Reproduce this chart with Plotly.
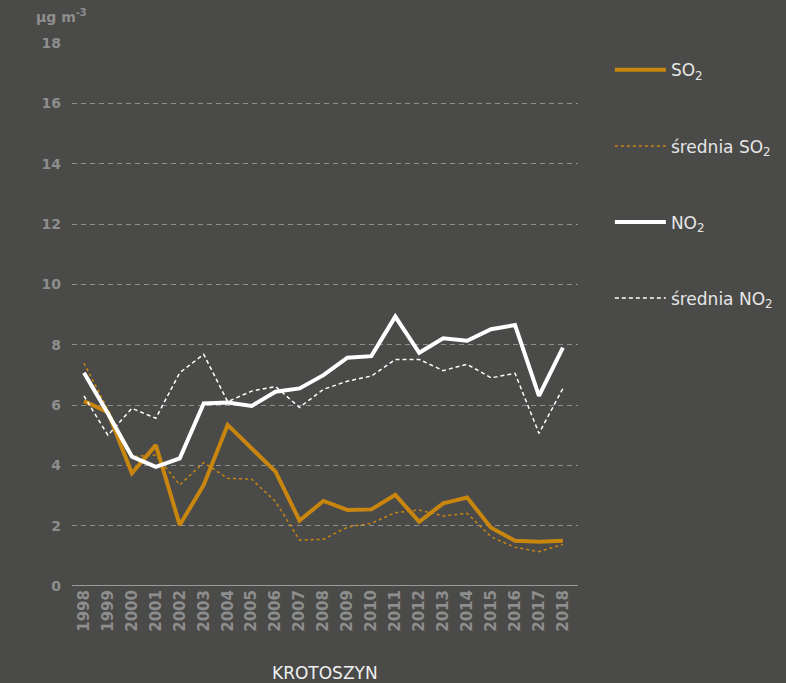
import plotly.graph_objects as go

# Annual mean concentrations, Krotoszyn
years = list(range(1998, 2019))
so2 = [6.13, 5.76, 3.74, 4.67, 2.02, 3.35, 5.34, 4.57, 3.79, 2.17, 2.82,
       2.52, 2.54, 3.02, 2.13, 2.74, 2.93, 1.93, 1.50, 1.47, 1.50]
so2_mean = [7.39, 5.85, 4.29, 4.34, 3.35, 4.09, 3.57, 3.54, 2.80, 1.52, 1.55,
            1.95, 2.08, 2.43, 2.52, 2.32, 2.41, 1.63, 1.28, 1.14, 1.38]
no2 = [7.07, 5.72, 4.29, 3.95, 4.23, 6.05, 6.08, 5.97, 6.44, 6.55, 6.99,
       7.57, 7.62, 8.93, 7.73, 8.21, 8.13, 8.51, 8.65, 6.30, 7.90]
no2_mean = [6.30, 5.00, 5.89, 5.56, 7.07, 7.68, 6.11, 6.46, 6.61, 5.92, 6.52,
            6.79, 6.96, 7.51, 7.51, 7.14, 7.35, 6.90, 7.05, 5.06, 6.55]
y_ticks = [0, 2, 4, 6, 8, 10, 12, 14, 16, 18]

BG = "#4a4a48"
ORANGE = "#c8860f"
WHITE = "#ffffff"
TICK = "#8e8e8e"
FONT = "DejaVu Sans"

fig = go.Figure()
fig.add_trace(go.Scatter(x=years, y=so2, mode="lines", name="SO<sub>2</sub>",
                         legendgroup="a",
                         line=dict(color=ORANGE, width=4)))
fig.add_trace(go.Scatter(x=years, y=so2_mean, mode="lines",
                         name="średnia SO<sub>2</sub>", legendgroup="b",
                         line=dict(color=ORANGE, width=1.5, dash="3px,3px")))
fig.add_trace(go.Scatter(x=years, y=no2, mode="lines", name="NO<sub>2</sub>",
                         legendgroup="c",
                         line=dict(color=WHITE, width=4)))
fig.add_trace(go.Scatter(x=years, y=no2_mean, mode="lines",
                         name="średnia NO<sub>2</sub>", legendgroup="d",
                         line=dict(color=WHITE, width=1.5, dash="4px,3px")))

fig.update_layout(
    width=786, height=683,
    paper_bgcolor=BG, plot_bgcolor=BG,
    margin=dict(l=72, r=208, t=43, b=97, autoexpand=False),
    font=dict(family=FONT, color="#e6e6e6"),
    showlegend=True,
    legend=dict(x=1.063, xanchor="left", y=0.983, yanchor="top",
                xref="paper", yref="paper",
                traceorder="grouped", tracegroupgap=51,
                font=dict(family=FONT, size=17, color="#e6e6e6"),
                bgcolor="rgba(0,0,0,0)", itemwidth=51),
    xaxis=dict(range=[1997.5, 2018.63], tickmode="array", tickvals=years,
               ticktext=[str(y) for y in years], tickangle=-90,
               tickfont=dict(family=FONT, size=15, color=TICK, weight="bold"),
               showgrid=False, zeroline=False, showline=False, ticks=""),
    yaxis=dict(range=[0, 18], tickmode="array", tickvals=y_ticks,
               tickfont=dict(family=FONT, size=14, color=TICK, weight="bold"),
               showgrid=True, gridcolor="#8f8f8f", gridwidth=1,
               griddash="5px,4px",
               zeroline=False, showline=False, ticks="", ticklabelstandoff=10),
)

# baseline at zero
fig.add_shape(type="line", xref="paper", yref="y", x0=0, x1=1, y0=0, y1=0,
              line=dict(color="#9a9a9a", width=2))

fig.add_annotation(text="µg m<sup>-3</sup>", xref="paper", yref="paper",
                   x=-0.075, y=1.0, yshift=16, xanchor="left", yanchor="bottom",
                   showarrow=False,
                   font=dict(family=FONT, size=14, color=TICK, weight="bold"))
fig.add_annotation(text="KROTOSZYN", xref="paper", yref="paper",
                   x=0.5, y=0, yshift=-87, xanchor="center", yanchor="middle",
                   showarrow=False,
                   font=dict(family=FONT, size=17, color="#f0f0f0"))

fig.write_html("out.html")
